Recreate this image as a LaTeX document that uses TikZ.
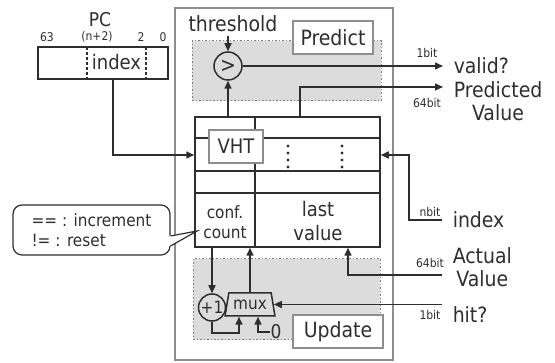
\documentclass[tikz,border=0pt]{standalone}
\usepackage{fontspec}
\setmainfont{DejaVu Sans Condensed}
\usepackage{tikz}
\usetikzlibrary{positioning,shapes.geometric,arrows.meta}
\definecolor{ink}{HTML}{2E2E2E}
\definecolor{framegray}{HTML}{8E8E8E}
\definecolor{shade}{HTML}{DCDCDC}
\definecolor{dotgray}{HTML}{7C7C7C}

\begin{document}
\begin{tikzpicture}[x=1pt, y=-1pt, line width=1.5pt, color=ink,
    >={Triangle[length=8pt, width=7pt]},
    bigtxt/.style = {font=\fontsize{21}{23}\selectfont},
    midtxt/.style = {font=\fontsize{17}{20}\selectfont},
    bitlbl/.style = {font=\fontsize{12}{14}\selectfont, inner sep=0pt},
    unitbox/.style = {draw=framegray, line width=1.6pt},
    stage/.style = {bigtxt, draw=framegray, fill=white, line width=1.3pt},
    region/.style = {draw=dotgray, fill=shade, line width=1pt, dash pattern=on 1.5pt off 2pt},
    sig/.style = {bigtxt, anchor=west, inner xsep=10pt, inner ysep=0pt, align=center},
    op/.style = {draw, circle, inner sep=0pt}]
\useasboundingbox (0,0) rectangle (555,363);

% processing unit with predict / update stages
\node[unitbox, minimum width=218pt, minimum height=352pt] (unit) at (284,184) {};
\node[region, minimum width=189pt, minimum height=60pt] (predreg) at (286.5,71) {};
\node[region, minimum width=187pt, minimum height=81pt] (updreg) at (286.5,299.5) {};
\node[stage, minimum width=80pt, minimum height=33pt] (predict) at (333,37.5) {Predict};
\node[stage, minimum width=90pt, minimum height=33pt] (update) at (338,331.5) {Update};

% value history table
\node[draw, minimum width=185pt, minimum height=130pt] (tbl) at (287.5,182) {};
\foreach \y in {138,171,193}
    \draw (195,\y) -- (380,\y);
\draw (255,117) -- (255,247);
\node[stage, font=\fontsize{20}{22}\selectfont, minimum width=54pt, minimum height=33pt] (vht) at (236,146.5) {VHT};
\foreach \x in {288,342}
    \foreach \y in {146,153,160,167}
        \fill (\x,\y) circle (1.6pt);
\node[midtxt, align=center] (conf) at (225,222) {conf.\\count};
\node[font=\fontsize{20}{24}\selectfont, align=center] (last) at (318,221) {last\\value};

% program counter
\node[draw, minimum width=130pt, minimum height=32pt] (pc) at (103,63) {};
\draw[densely dashed] (87,47) -- (87,79);
\draw[densely dashed] (146,47) -- (146,79);
\node[font=\fontsize{20}{22}\selectfont] (idx) at (116.5,62) {index};
\node[font=\fontsize{19}{20}\selectfont] (pcname) at (100,20) {PC};
\node[bitlbl] (b63) at (47,37) {63};
\node[bitlbl] (bn) at (97,37) {(n+2)};
\node[bitlbl] (b2) at (141,37) {2};
\node[bitlbl] (b0) at (163,37) {0};

% comparator
\node[bigtxt] (thr) at (233,24) {threshold};
\node[op, bigtxt, minimum size=28pt] (cmp) at (228,66) {>};

% signals
\node[sig] (valid) at (443,66) {valid?};
\node[sig] (pv) at (443,101) {Predicted\\Value};
\node[sig] (idxin) at (442,220) {index};
\node[sig] (av) at (442,267) {Actual\\Value};
\node[sig] (hit) at (442,315) {hit?};
\node[bitlbl] (w1) at (427,53) {1bit};
\node[bitlbl] (w2) at (427,103) {64bit};
\node[bitlbl] (w3) at (430,212) {nbit};
\node[bitlbl] (w4) at (430,263) {64bit};
\node[bitlbl] (w5) at (430,315) {1bit};

% update logic
\node[draw, trapezium, trapezium stretches=true, minimum width=50pt, minimum height=23pt,
      trapezium left angle=73, trapezium right angle=73, inner sep=0pt, midtxt] (mux) at (250,304.5) {mux};
\node[op, midtxt, minimum size=27pt] (inc) at (212,307.5) {+1};
\node[font=\fontsize{19}{20}\selectfont, inner sep=0pt] (zero) at (276,332) {0};

% comparison rule note
\node[draw, rounded corners=9pt, line width=1.2pt, minimum width=157pt, minimum height=50pt,
      midtxt, align=left] (note) at (91.5,230) {== : increment\\!= : reset};
\coordinate (tip) at (197,231);
\fill[white] ([xshift=-1.5pt,yshift=-6pt]note.east) -- (tip) -- ([xshift=-1.5pt,yshift=-16pt]note.east) -- cycle;
\draw[line width=1.2pt] ([yshift=-6pt]note.east) -- (tip) -- ([yshift=-16pt]note.east);

\coordinate (vhtrow) at (287.5,155);
\coordinate (idxbend) at (409,155);
\coordinate (pvtap) at (300,87);
\coordinate (avtap) at (348,275);
\coordinate (loop) at (239,333);
\draw[->] (thr.south -| cmp) -- (cmp);
\draw[->] (tbl.north -| cmp) -- (cmp);
\draw[->] (cmp) -- (valid.west);
\draw[->] (tbl.north -| pvtap) |- (pv.west |- pvtap);
\draw[->] ([xshift=10pt]pc.south) |- (tbl.west |- vhtrow);
\draw[->] (idxin.west) -| (idxbend) -- (tbl.east |- vhtrow);
\draw[->] (av.west |- avtap) -| (tbl.south -| avtap);
\draw[->] (tbl.south -| inc) -- (inc);
\draw[->] (inc) |- (loop) -- (loop |- mux.south);
\draw[->] (zero.west) -| ([xshift=8pt]mux.south);
\draw[->] (mux.north) -- (mux.north |- tbl.south);
\draw[->] (mux.east -| hit.west) -- (mux.east);
\end{tikzpicture}
\end{document}
